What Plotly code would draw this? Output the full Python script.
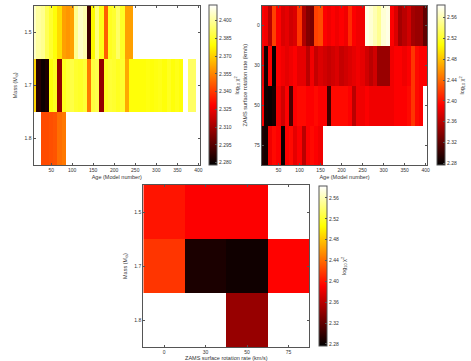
import plotly.graph_objects as go

# ---------------- data ----------------
ages = list(range(10, 401, 10))  # model numbers (cell centres)

mass_labels = ["1.5", "1.7", "1.8"]
rot_labels = ["0", "30", "50", "75"]

N = None
# Top-left: log10 chi^2 vs age for each mass
chi_m15 = [2.405, 2.400, 2.398, 2.390, 2.385, 2.380, 2.372, 2.360, 2.358, 2.360,
           2.398, 2.405, 2.402, 2.290, 2.378, 2.395, 2.382, 2.347, 2.383, 2.385,
           2.392, 2.384, 2.360, 2.360, N, N, N, N, N, N,
           N, N, N, N, N, N, N, N, N, N]
chi_m17 = [2.370, 2.285, 2.280, 2.283, 2.380, 2.383, 2.307, 2.383, 2.386, 2.388,
           2.385, 2.384, 2.386, 2.352, 2.387, 2.389, 2.307, 2.384, 2.386, 2.385,
           2.383, 2.385, 2.362, 2.380, 2.380, 2.380, 2.380, 2.381, 2.380, 2.381,
           2.382, 2.380, 2.383, 2.380, 2.382, 2.380, N, 2.392, 2.392, N]
chi_m18 = [N, N, 2.343, 2.343, 2.344, 2.345, 2.350, 2.352, N, N,
           N, N, N, N, N, N, N, N, N, N,
           N, N, N, N, N, N, N, N, N, N,
           N, N, N, N, N, N, N, N, N, N]

# Top-right: log10 chi^2 vs age for each ZAMS rotation rate
chi_r0 = [2.390, 2.385, 2.360, 2.420, 2.390, 2.375, 2.380, 2.370, 2.375, 2.415,
          2.355, 2.335, 2.330, 2.420, 2.425, 2.390, 2.385, 2.390, 2.385, 2.390,
          2.385, 2.410, 2.390, 2.385, 2.385, 2.575, 2.570, 2.560, 2.550, 2.570,
          2.575, 2.390, 2.375, 2.350, 2.360, 2.370, 2.350, 2.345, 2.345, 2.320]
chi_r30 = [2.385, 2.285, 2.390, 2.280, 2.390, 2.385, 2.380, 2.385, 2.390, 2.380,
           2.380, 2.360, 2.385, 2.365, 2.375, 2.370, 2.365, 2.370, 2.375, 2.365,
           2.370, 2.375, 2.380, 2.385, 2.380, 2.370, 2.360, 2.370, 2.345, 2.345,
           2.345, 2.385, 2.390, 2.390, 2.385, 2.390, 2.415, 2.395, 2.390, 2.390]
chi_r50 = [2.390, 2.283, 2.280, 2.285, 2.385, 2.370, 2.390, 2.310, 2.390, 2.395,
           2.395, 2.390, 2.390, 2.395, 2.390, 2.390, 2.305, 2.395, 2.395, 2.395,
           2.395, 2.390, 2.360, 2.385, 2.385, 2.390, 2.385, 2.385, 2.385, 2.385,
           2.385, 2.385, 2.390, 2.390, 2.390, 2.395, 2.415, 2.395, 2.390, N]
chi_r75 = [2.290, 2.285, 2.385, 2.395, 2.390, 2.280, 2.390, 2.395, 2.380, 2.390,
           2.360, 2.390, 2.395, 2.390, 2.385, N, N, N, N, N,
           N, N, N, N, N, N, N, N, N, N,
           N, N, N, N, N, N, N, N, N, N]

# Bottom: best log10 chi^2 per (mass, rotation)
best_m15 = [2.400, 2.390, 2.390, N]
best_m17 = [2.415, 2.288, 2.283, 2.392]
best_m18 = [N, N, 2.344, N]

age_ticks = [50, 100, 150, 200, 250, 300, 350, 400]
cb1_ticks = [2.280, 2.295, 2.310, 2.325, 2.340, 2.355, 2.370, 2.385, 2.400]
cb2_ticks = [2.28, 2.32, 2.36, 2.40, 2.44, 2.48, 2.52, 2.56]

# ---------------- style ----------------
W, H = 471, 361
hot = [[0.0, "rgb(0,0,0)"], [0.375, "rgb(255,0,0)"],
       [0.75, "rgb(255,255,0)"], [1.0, "rgb(255,255,255)"]]
FONT = "Liberation Sans, Arial, sans-serif"
TXT = "#333333"
LINE = "#555555"
cbtitle = "log<sub>10</sub> χ<sup>2</sup>"


def px(x):
    return x / W


def py(y):
    return 1 - y / H


def cbar(x0, y0, y1, ticks, fmt):
    return dict(
        x=px(x0), xanchor="left", xref="paper", xpad=0, ypad=0,
        y=py(y0), yanchor="top", yref="paper",
        len=(y1 - y0) / H, lenmode="fraction", thickness=8,
        outlinewidth=1, outlinecolor=LINE,
        tickvals=ticks, tickformat=fmt, ticks="inside", ticklen=2,
        tickcolor=LINE, tickfont=dict(size=5, color=TXT, family=FONT),
        title=dict(text=cbtitle, side="right", font=dict(size=5.5, color=TXT, family=FONT)),
    )


fig = go.Figure()

fig.add_trace(go.Heatmap(
    x=ages, y=mass_labels, z=[chi_m15, chi_m17, chi_m18],
    colorscale=hot, zmin=2.2775, zmax=2.4127,
    xaxis="x", yaxis="y", hoverongaps=False,
    colorbar=cbar(209, 5.5, 165, cb1_ticks, ".3f"),
))
fig.add_trace(go.Heatmap(
    x=ages, y=rot_labels, z=[chi_r0, chi_r30, chi_r50, chi_r75],
    colorscale=hot, zmin=2.276, zmax=2.583,
    xaxis="x2", yaxis="y2", hoverongaps=False,
    colorbar=cbar(437, 5.5, 165, cb2_ticks, ".2f"),
))
fig.add_trace(go.Heatmap(
    x=rot_labels, y=mass_labels, z=[best_m15, best_m17, best_m18],
    colorscale=hot, zmin=2.276, zmax=2.583,
    xaxis="x3", yaxis="y3", hoverongaps=False,
    colorbar=cbar(318.5, 186, 346, cb2_ticks, ".2f"),
))

axis_common = dict(
    showline=True, linecolor=LINE, linewidth=1, mirror="ticks",
    ticks="inside", ticklen=2, tickcolor=LINE, showgrid=False, zeroline=False,
    tickfont=dict(size=5, color=TXT, family=FONT), automargin=False,
)
tfont = dict(size=5.5, color=TXT, family=FONT)

fig.update_layout(
    width=W, height=H, margin=dict(l=0, r=0, t=0, b=0),
    paper_bgcolor="white", plot_bgcolor="white", showlegend=False,
    xaxis=dict(axis_common, domain=[px(33.5), px(200)], anchor="y",
               range=[8, 404], tickvals=age_ticks,
               title=dict(text="Age (Model number)", font=tfont, standoff=3)),
    yaxis=dict(axis_common, domain=[py(165), py(5.5)], anchor="x",
               type="category", autorange="reversed",
               title=dict(text="Mass (M<sub>⊙</sub>)", font=tfont, standoff=6)),
    xaxis2=dict(axis_common, domain=[px(261.7), px(427.3)], anchor="y2",
                range=[10, 404], tickvals=age_ticks,
                title=dict(text="Age (Model number)", font=tfont, standoff=3)),
    yaxis2=dict(axis_common, domain=[py(165), py(5.5)], anchor="x2",
                type="category", autorange="reversed",
                title=dict(text="ZAMS surface rotation rate (km/s)", font=tfont, standoff=6)),
    xaxis3=dict(axis_common, domain=[px(143.3), px(309.3)], anchor="y3",
                type="category",
                title=dict(text="ZAMS surface rotation rate (km/s)", font=tfont, standoff=3)),
    yaxis3=dict(axis_common, domain=[py(347), py(185)], anchor="x3",
                type="category", autorange="reversed",
                title=dict(text="Mass (M<sub>⊙</sub>)", font=tfont, standoff=6)),
)

fig.write_html("out.html", config={"displayModeBar": False},
               post_script="document.body.style.margin='0';")
